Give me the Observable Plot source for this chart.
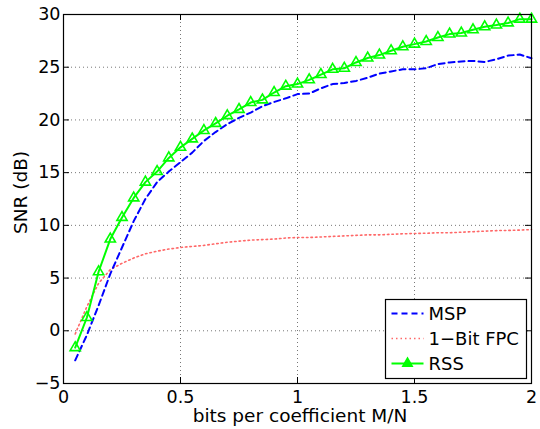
<!DOCTYPE html>
<html>
<head>
<meta charset="utf-8">
<script src="https://cdn.jsdelivr.net/npm/d3@7"></script>
<script src="https://cdn.jsdelivr.net/npm/@observablehq/plot@0.6"></script>
<style>
  html, body { margin: 0; padding: 0; background: #fff; }
  svg text { font-family: "DejaVu Sans", sans-serif; }
</style>
</head>
<body>
<div id="chart"></div>
<script>
const mn = [0.05,0.1,0.15,0.2,0.25,0.3,0.35,0.4,0.45,0.5,0.55,0.6,0.65,0.7,0.75,0.8,0.85,0.9,0.95,1.0,
            1.05,1.1,1.15,1.2,1.25,1.3,1.35,1.4,1.45,1.5,1.55,1.6,1.65,1.7,1.75,1.8,1.85,1.9,1.95,2.0];
const msp = [-2.8,-0.4,2.4,5.4,7.9,10.4,12.5,14.1,15.1,16.0,16.9,18.0,18.85,19.6,20.2,20.7,21.3,21.7,22.05,22.45,
             22.5,23.0,23.4,23.5,23.7,24.0,24.4,24.6,24.8,24.8,24.9,25.3,25.45,25.55,25.6,25.5,25.75,26.1,26.2,25.85];
const fpc = [-0.3,2.3,4.5,5.8,6.4,6.9,7.3,7.55,7.75,7.9,8.0,8.1,8.25,8.4,8.5,8.6,8.65,8.7,8.8,8.85,
             8.85,8.9,8.95,9.0,9.05,9.1,9.1,9.15,9.2,9.23,9.25,9.3,9.3,9.35,9.4,9.45,9.5,9.52,9.55,9.6];
const rss = [-1.6,1.26,5.6,8.7,10.75,12.6,14.1,15.1,16.4,17.4,18.2,19.0,19.67,20.4,21.0,21.65,21.9,22.6,23.2,23.4,
             23.8,24.3,24.8,24.9,25.45,25.87,26.15,26.56,26.94,27.19,27.44,27.82,28.14,28.24,28.55,28.83,29.0,29.2,29.56,29.56];
const xTicks = [0, 0.5, 1, 1.5, 2];
const yTicks = [-5, 0, 5, 10, 15, 20, 25, 30];
const seriesNames = ["MSP", "1\u2212Bit FPC", "RSS"];
const xLabel = "bits per coefficient M/N";
const yLabel = "SNR (dB)";

const W = 540, H = 429;
const mL = 63, mR = 9, mT = 14, mB = 46;
const pw = W - mL - mR, ph = H - mT - mB;
const tick = 6;

const rows = (ys) => mn.map((x, i) => ({x, y: ys[i]}));
const fmt = d => String(d).replace("-", "\u2212");

const chart = Plot.plot({
  width: W, height: H,
  marginLeft: mL, marginRight: mR, marginTop: mT, marginBottom: mB,
  style: {fontFamily: "DejaVu Sans, sans-serif", fontSize: "17px", background: "#fff", overflow: "visible"},
  x: {domain: [0, 2], ticks: xTicks},
  y: {domain: [-5, 30], ticks: yTicks},
  marks: [
    Plot.gridX(xTicks, {stroke: "#555", strokeOpacity: 0.8, strokeWidth: 1, strokeDasharray: "1,3"}),
    Plot.gridY(yTicks, {stroke: "#555", strokeOpacity: 0.8, strokeWidth: 1, strokeDasharray: "1,3"}),
    Plot.tickY(yTicks, {y: d => d, insetRight: pw - tick, stroke: "#000"}),
    Plot.tickY(yTicks, {y: d => d, insetLeft: pw - tick, stroke: "#000"}),
    Plot.tickX(xTicks, {x: d => d, insetTop: ph - tick, stroke: "#000"}),
    Plot.tickX(xTicks, {x: d => d, insetBottom: ph - tick, stroke: "#000"}),
    Plot.axisX(xTicks, {tickSize: 0, tickPadding: 7, tickFormat: fmt, label: null, fontSize: 17.5, fill: "#000"}),
    Plot.axisY(yTicks, {tickSize: 0, tickPadding: 3, tickFormat: fmt, label: null, fontSize: 17.5, fill: "#000"}),
    Plot.line(rows(fpc), {x: "x", y: "y", stroke: "#ff6868", strokeWidth: 1.6, strokeDasharray: "1.5,3"}),
    Plot.line(rows(msp), {x: "x", y: "y", stroke: "#0000ff", strokeWidth: 2, strokeDasharray: "6,4"}),
    Plot.line(rows(rss), {x: "x", y: "y", stroke: "#00ff00", strokeWidth: 2}),
    Plot.dot(rows(rss), {x: "x", y: "y", symbol: "triangle", r: 3.8, fill: "none", stroke: "#00ff00", strokeWidth: 1.6}),
    Plot.frame({stroke: "#000", strokeWidth: 1.2})
  ]
});

const svg = d3.select(chart);

// Axis titles
svg.append("text").attr("x", 300).attr("y", 422.3).attr("text-anchor", "middle")
  .attr("font-size", 18.5).attr("fill", "#000").text(xLabel);
svg.append("text").attr("transform", "translate(27,192.4) rotate(-90)").attr("text-anchor", "middle")
  .attr("font-size", 18.5).attr("fill", "#000").text(yLabel);

// Legend box (inside plot, lower right)
const lg = svg.append("g").attr("transform", "translate(385.5,299.5)");
lg.append("rect").attr("width", 141).attr("height", 79).attr("fill", "#fff").attr("stroke", "#000").attr("stroke-width", 1.2);
const styles = [
  {stroke: "#0000ff", dash: "6,4", w: 2, marker: false},
  {stroke: "#ff6868", dash: "1.5,3", w: 1.6, marker: false},
  {stroke: "#00ff00", dash: null, w: 2, marker: true}
];
seriesNames.forEach((name, i) => {
  const yy = 14 + i * 25;
  const s = styles[i];
  const ln = lg.append("line").attr("x1", 6).attr("x2", 38).attr("y1", yy).attr("y2", yy)
    .attr("stroke", s.stroke).attr("stroke-width", s.w);
  if (s.dash) ln.attr("stroke-dasharray", s.dash);
  if (s.marker) {
    lg.append("path").attr("d", d3.symbol(d3.symbolTriangle, 40)())
      .attr("transform", `translate(22,${yy})`)
      .attr("fill", "#00ff00").attr("stroke", s.stroke).attr("stroke-width", 1.4);
  }
  lg.append("text").attr("x", 43).attr("y", yy).attr("dy", "0.36em")
    .attr("text-anchor", "start")
    .attr("font-size", 18).attr("fill", "#000").text(name);
});

document.getElementById("chart").appendChild(chart);
</script>
</body>
</html>
